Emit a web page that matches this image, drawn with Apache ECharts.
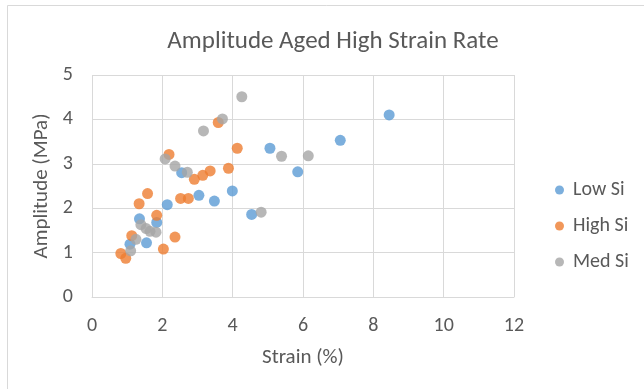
<!DOCTYPE html>
<html>
<head>
<meta charset="utf-8">
<style>
  html, body { margin: 0; padding: 0; background: #fff; }
  #chart { width: 644px; height: 389px; }
</style>
<script src="https://cdn.jsdelivr.net/npm/echarts@6/dist/echarts.min.js"></script>
</head>
<body>
<div id="chart"></div>
<script>
// Strain (%) vs amplitude (MPa) for each silicon content
const lowSiStrain  = [1.08, 1.35, 1.55, 1.84, 2.14, 2.55, 3.04, 3.48, 3.99, 4.54, 5.06, 5.85, 7.06, 8.45];
const lowSiAmp     = [1.19, 1.76, 1.22, 1.68, 2.08, 2.80, 2.29, 2.16, 2.39, 1.86, 3.35, 2.82, 3.53, 4.10];

const highSiStrain = [0.82, 0.96, 1.13, 1.34, 1.58, 1.84, 2.03, 2.19, 2.36, 2.52, 2.74, 2.91, 3.15, 3.36, 3.59, 3.88, 4.13];
const highSiAmp    = [0.98, 0.87, 1.38, 2.10, 2.33, 1.84, 1.08, 3.21, 1.35, 2.22, 2.22, 2.65, 2.74, 2.84, 3.93, 2.90, 3.35];

const medSiStrain  = [1.10, 1.25, 1.39, 1.54, 1.65, 1.82, 2.08, 2.36, 2.71, 3.17, 3.71, 4.26, 4.81, 5.39, 6.15];
const medSiAmp     = [1.04, 1.30, 1.63, 1.54, 1.48, 1.46, 3.11, 2.95, 2.81, 3.74, 4.01, 4.51, 1.91, 3.17, 3.18];

const xTicks = { min: 0, max: 12, step: 2 };
const yTicks = { min: 0, max: 5, step: 1 };

const seriesDefs = [
  { name: 'Low Si',  x: lowSiStrain,  y: lowSiAmp,  color: '#5B9BD5' },
  { name: 'High Si', x: highSiStrain, y: highSiAmp, color: '#ED7D31' },
  { name: 'Med Si',  x: medSiStrain,  y: medSiAmp,  color: '#A5A5A5' }
];

const pair = (xs, ys) => xs.map((v, i) => [v, ys[i]]);
const fontFamily = 'Carlito, Lato, "Open Sans", sans-serif';
const textColor = '#595959';

const chart = echarts.init(document.getElementById('chart'), null, { renderer: 'canvas' });

chart.setOption({
  animation: false,
  backgroundColor: '#fff',
  textStyle: { fontFamily: fontFamily },
  title: {
    text: 'Amplitude Aged High Strain Rate',
    left: 328, top: 24, textAlign: 'center',
    textStyle: { fontFamily: fontFamily, fontSize: 25, fontWeight: 'normal', color: textColor }
  },
  graphic: [{
    type: 'rect',
    shape: { x: 7.5, y: 5.5, width: 660, height: 400 },
    style: { fill: 'none', stroke: '#D9D9D9', lineWidth: 1 },
    silent: true
  }],
  legend: {
    orient: 'vertical',
    left: 550, top: 175,
    itemWidth: 17, itemHeight: 9, itemGap: 16,
    icon: 'circle',
    textStyle: { fontFamily: fontFamily, fontSize: 20, color: textColor },
    data: seriesDefs.map(s => s.name)
  },
  grid: { left: 92, top: 75, right: 130, bottom: 92, containLabel: false },
  xAxis: {
    type: 'value',
    min: xTicks.min, max: xTicks.max, interval: xTicks.step,
    name: 'Strain (%)', nameLocation: 'middle', nameGap: 50,
    nameTextStyle: { fontFamily: fontFamily, fontSize: 21, color: textColor },
    axisLine: { show: true, lineStyle: { color: '#D9D9D9' } },
    axisTick: { show: false },
    axisLabel: { fontFamily: fontFamily, fontSize: 20, color: textColor, margin: 19 },
    splitLine: { show: true, lineStyle: { color: '#D9D9D9' } }
  },
  yAxis: {
    type: 'value',
    min: yTicks.min, max: yTicks.max, interval: yTicks.step,
    name: 'Amplitude (MPa)', nameLocation: 'middle', nameGap: 27, nameRotate: 90,
    nameTextStyle: { fontFamily: fontFamily, fontSize: 21, color: textColor },
    axisLine: { show: false },
    axisTick: { show: false },
    axisLabel: { fontFamily: fontFamily, fontSize: 20, color: textColor, margin: 19 },
    splitLine: { show: true, lineStyle: { color: '#D9D9D9' } }
  },
  series: seriesDefs.map(s => ({
    name: s.name,
    type: 'scatter',
    symbol: 'circle',
    symbolSize: 11,
    itemStyle: { color: s.color },
    data: pair(s.x, s.y)
  }))
});
</script>
</body>
</html>
